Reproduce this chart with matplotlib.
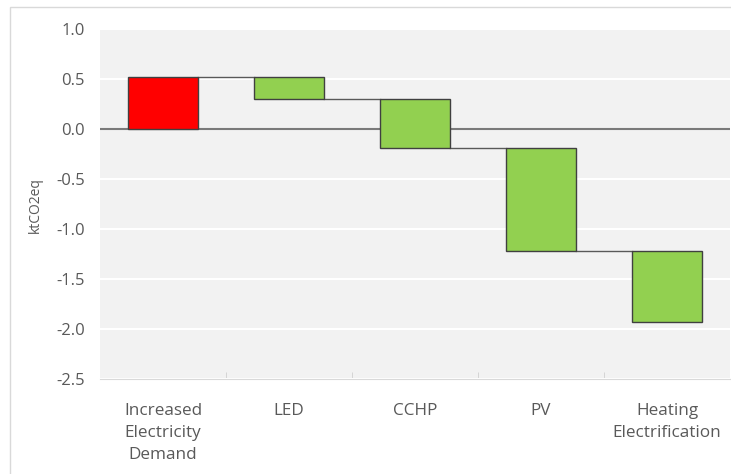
import numpy as np
import matplotlib.pyplot as plt
from matplotlib.patches import Rectangle
from matplotlib.ticker import FixedLocator

categories = ["Increased\nElectricity\nDemand", "LED", "CCHP", "PV", "Heating\nElectrification"]
deltas = [0.52, -0.22, -0.49, -1.03, -0.71]
colors = ["#ff0000", "#92d050", "#92d050", "#92d050", "#92d050"]

plt.rcParams['font.family'] = ['Open Sans', 'DejaVu Sans']

ends = np.cumsum(deltas)
starts = ends - np.array(deltas)
x = np.arange(len(categories))
w = 0.55

fig = plt.figure(figsize=(7.31, 4.74), dpi=100)
fig.patches.append(Rectangle((10 / 731, -0.1), 1.1, 1 - 7 / 474 + 0.1, transform=fig.transFigure,
                             facecolor="none", edgecolor="#d9d9d9", lw=1, zorder=-1))
ax = fig.add_axes([100 / 731, 95 / 474, 630 / 731, 350 / 474])
ax.set_facecolor("#f2f2f2")

ax.set_ylim(-2.5, 1.0)
ax.set_xlim(-0.5, len(categories) - 0.5)
ax.set_yticks(np.arange(-2.5, 1.01, 0.5))
ax.set_yticklabels([f"{v:.1f}" for v in np.arange(-2.5, 1.01, 0.5)])
ax.yaxis.grid(True, color="white", lw=1.5)
ax.set_axisbelow(True)

ax.axhline(0, color="#7a7a7a", lw=1.5, zorder=1)

ax.bar(x, deltas, bottom=starts, width=w, color=colors, edgecolor="#404040", lw=1, zorder=3)

# connectors
for i in range(len(categories) - 1):
    ax.plot([x[i] + w / 2, x[i + 1] - w / 2], [ends[i], ends[i]], color="#595959", lw=1, zorder=2)

ax.set_xticks(x)
ax.set_xticklabels(categories, linespacing=1.5)
ax.xaxis.set_minor_locator(FixedLocator(np.arange(0.5, len(categories) - 1, 1)))
ax.tick_params(axis='x', which='major', length=0, pad=17, labelsize=12.3, colors="#595959")
ax.tick_params(axis='x', which='minor', direction='in', length=5, color="#d0d0d0")
ax.tick_params(axis='y', length=0, pad=11, labelsize=12, colors="#595959")

for s in ["top", "right", "left"]:
    ax.spines[s].set_visible(False)
ax.spines["bottom"].set_color("#d9d9d9")

fig.text(35 / 731, 1 - 205 / 474, "ktCO2eq", rotation=90, ha="center", va="center",
         fontsize=10, color="#595959")

fig.savefig("out.png", dpi=100)
